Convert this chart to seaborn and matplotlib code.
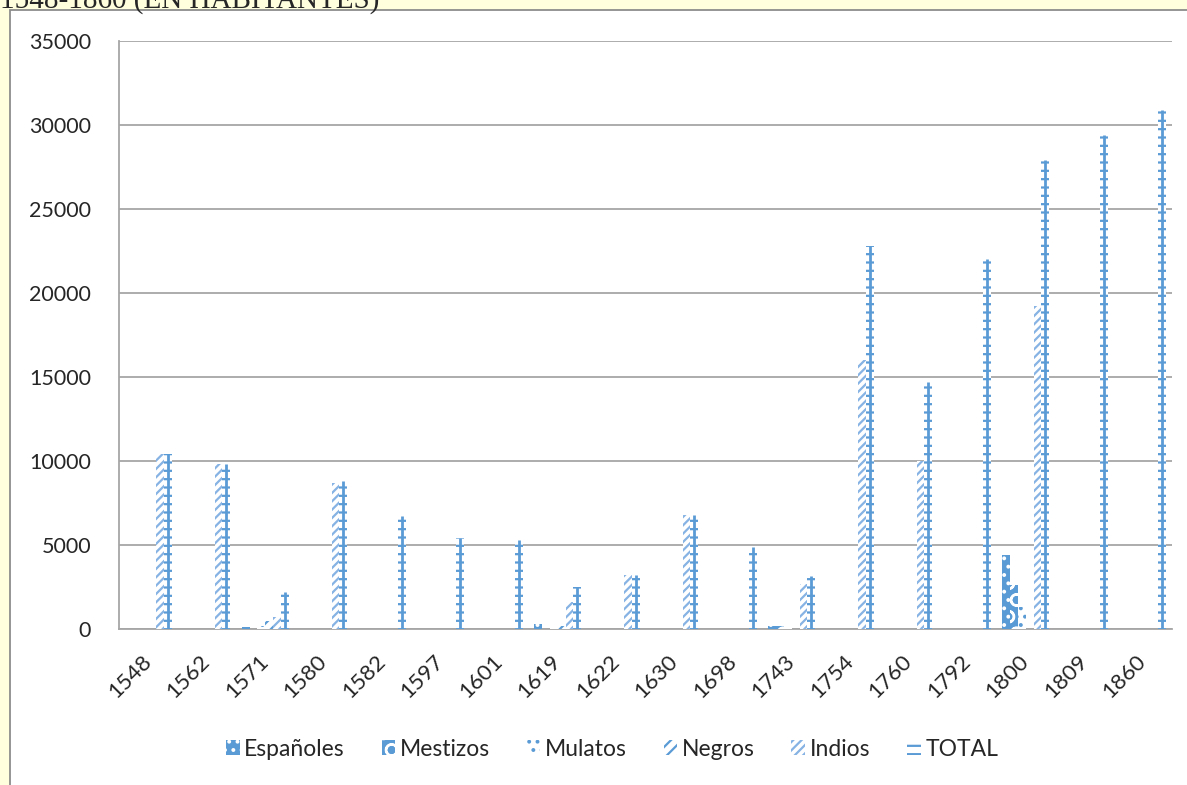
import numpy as np
import pandas as pd
import matplotlib
matplotlib.use("Agg")
import matplotlib.pyplot as plt
import matplotlib.patches as mpatches
from matplotlib.ticker import FixedLocator
import seaborn as sns

# ── data ──────────────────────────────────────────────────────────────────────
years = ["1548", "1562", "1571", "1580", "1582", "1597", "1601", "1619", "1622",
         "1630", "1698", "1743", "1754", "1760", "1792", "1800", "1809", "1860"]
espanoles = [0, 0, 100, 0, 0, 0, 0, 300, 0, 0, 0, 150, 0, 0, 0, 4400, 0, 0]
mestizos  = [0, 0, 0, 0, 0, 0, 0, 0, 0, 0, 0, 150, 0, 0, 0, 2600, 0, 0]
mulatos   = [0, 0, 200, 0, 0, 0, 0, 100, 0, 0, 0, 50, 0, 0, 0, 1300, 0, 0]
negros    = [0, 0, 500, 0, 0, 0, 0, 200, 0, 0, 0, 0, 0, 0, 0, 0, 0, 0]
indios    = [10400, 9800, 700, 8700, 0, 0, 0, 1600, 3200, 6800, 0, 2700,
             16000, 10000, 0, 19200, 0, 0]
total     = [10400, 9800, 2200, 8800, 6700, 5400, 5300, 2500, 3200, 6800, 4900,
             3150, 22800, 14700, 22000, 27900, 29400, 30900]

groups = ["Españoles", "Mestizos", "Mulatos", "Negros", "Indios", "TOTAL"]
series = [espanoles, mestizos, mulatos, negros, indios, total]

df = pd.DataFrame({"Año": years})
for name, vals in zip(groups, series):
    df[name] = vals
long = df.melt(id_vars="Año", var_name="Grupo", value_name="Habitantes")

BLUE = "#5B9BD5"
LIGHT = "#86B3E3"
GRID = "#A6A6A6"

# (facecolor, hatch colour, hatch)
STYLES = [
    (BLUE, "white", ".."),
    (BLUE, "white", "O"),
    ("white", BLUE, ".."),
    ("white", BLUE, "///"),
    ("white", LIGHT, "////"),
    ("white", BLUE, "--"),
]

sns.set_style("white")
plt.rcParams["font.family"] = ["Lato", "DejaVu Sans"]
plt.rcParams["hatch.linewidth"] = 1.6

fig = plt.figure(figsize=(11.87, 7.85), dpi=100, facecolor="#FFFFDD")
# chart frame
fig.patches.append(mpatches.Rectangle((10 / 1187, -0.1), 1.2, 1.1 - 10 / 785,
                                      transform=fig.transFigure, facecolor="white",
                                      edgecolor="#8C8C8C", lw=1.3, zorder=-10))
# title, partly cut off at the top edge as in the source
fig.text(0.0, 1 - 8 / 785, "1548-1860 (EN HABITANTES)", family="Liberation Serif",
         fontsize=21, va="baseline", ha="left")

ax = fig.add_axes([119 / 1187, 1 - 629 / 785, (1172 - 119) / 1187, (629 - 41) / 785])
ax.set_zorder(2)
ax.set_facecolor("white")

sns.barplot(data=long, x="Año", y="Habitantes", hue="Grupo", hue_order=groups,
            palette=[BLUE] * 6, width=0.8, saturation=1, legend=False, ax=ax,
            errorbar=None)

for cont, (fc, hc, hatch) in zip(ax.containers, STYLES):
    for p in cont:
        p.set_facecolor(fc)
        p.set_edgecolor(hc)
        p.set_hatch(hatch)
        p.set_linewidth(0)
        p.set_zorder(3)

# TOTAL bars: central vertical line of the ladder pattern
for p in ax.containers[5]:
    h = p.get_height()
    if h > 0:
        cx = p.get_x() + p.get_width() / 2
        ax.plot([cx, cx], [0, h], color=BLUE, lw=2.0, solid_capstyle="butt", zorder=4)

ax.set_ylim(0, 35000)
ax.set_xlim(-0.5, len(years) - 0.5)
ax.set_yticks(np.arange(0, 35001, 5000))
ax.yaxis.grid(True, color=GRID, lw=1.3)
ax.set_axisbelow(True)
ax.set_xlabel("")
ax.set_ylabel("")

for s in ["top", "right"]:
    ax.spines[s].set_visible(False)
for s in ["left", "bottom"]:
    ax.spines[s].set_color(GRID)
    ax.spines[s].set_linewidth(1.3)

ax.xaxis.set_minor_locator(FixedLocator(np.arange(len(years) + 1) - 0.5))
ax.tick_params(axis="x", which="major", length=0, pad=21, labelsize=16)
ax.tick_params(axis="x", which="minor", length=6, width=1.3, color=GRID)
ax.tick_params(axis="y", length=6, width=1.3, color=GRID, pad=14, labelsize=15.5)
for lab in ax.get_xticklabels():
    lab.set_rotation(45)
    lab.set_ha("right")
    lab.set_va("center")
    lab.set_rotation_mode("anchor")

handles = [mpatches.Patch(facecolor=fc, edgecolor=hc, hatch=hatch, lw=0, label=g)
           for g, (fc, hc, hatch) in zip(groups, STYLES)]
fig.legend(handles=handles, loc="center", bbox_to_anchor=(612 / 1187, 1 - 749 / 785),
           ncol=6, frameon=False, fontsize=16.5, handlelength=0.6, handleheight=0.6,
           handletextpad=0.2, columnspacing=1.6)

fig.savefig("out.png", dpi=100, facecolor=fig.get_facecolor())
